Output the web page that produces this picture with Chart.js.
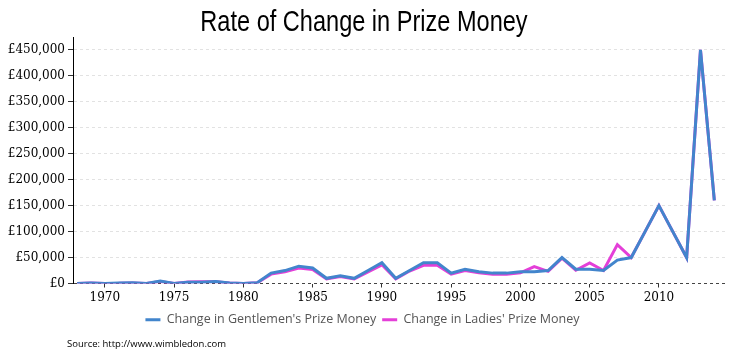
<!DOCTYPE html>
<html><head><meta charset="utf-8">
<script src="https://cdn.jsdelivr.net/npm/chart.js@4"></script>
<style>
html,body{margin:0;padding:0;background:#fff;}
#wrap{position:relative;width:750px;height:359px;}
#title{position:absolute;left:0;top:5px;width:728px;text-align:center;font:30px "Liberation Sans",Arial,sans-serif;line-height:32px;color:#000;transform:scaleX(0.785);transform-origin:364px 0;white-space:nowrap;}
#src{position:absolute;left:67px;top:337px;font:9.5px "Open Sans",sans-serif;color:#000;white-space:nowrap;}
</style>
</head><body>
<div id="wrap"><canvas id="c" width="750" height="359"></canvas>
<div id="title">Rate of Change in Prize Money</div>
<div id="src">Source: http://www.wimbledon.com</div></div>
<script>
const years = [1968,1969,1970,1971,1972,1973,1974,1975,1976,1977,1978,1979,1980,
  1981,1982,1983,1984,1985,1986,1987,1988,1989,1990,
  1991,1992,1993,1994,1995,1996,1997,1998,1999,2000,
  2001,2002,2003,2004,2005,2006,2007,2008,2009,2010,
  2011,2012,2013,2014];
const gentlemen = [0,1000,0,750,1250,0,5000,0,2500,2500,4000,1000,0,
  1600,20067,24933,33400,30000,10000,15000,10000,25000,40000,
  10000,25000,40000,40000,20000,27500,22500,20000,20000,22500,
  22500,25000,50000,27500,27500,25000,45000,50000,100000,150000,
  100000,50000,450000,160000];
const ladies = [0,750,0,300,1200,0,4000,0,3000,3500,3600,900,0,
  1400,18100,22500,30000,27000,9000,13500,9000,22500,36000,
  9000,24000,35000,35000,18000,25000,20500,18000,18000,20500,
  32500,23500,49000,25500,39500,25000,75000,50000,100000,150000,
  100000,50000,450000,160000];
const yTicks = [0,50000,100000,150000,200000,250000,300000,350000,400000,450000];
const xTicks = [1970,1975,1980,1985,1990,1995,2000,2005,2010];
const seriesNames = ["Change in Gentlemen's Prize Money", "Change in Ladies' Prize Money"];

const toPts = arr => years.map((y, i) => ({x: y, y: arr[i]}));
const tickFont = {family: "'DejaVu Serif', serif", size: 12};

new Chart(document.getElementById('c'), {
  type: 'line',
  data: {
    datasets: [
      {label: seriesNames[0], data: toPts(gentlemen), borderColor: '#4285cc', backgroundColor: '#4285cc', borderWidth: 3, pointRadius: 0, tension: 0},
      {label: seriesNames[1], data: toPts(ladies), borderColor: '#e43fd8', backgroundColor: '#e43fd8', borderWidth: 3, pointRadius: 0, tension: 0}
    ]
  },
  options: {
    responsive: false,
    animation: false,
    layout: {padding: {left: 0, right: 25, top: 37, bottom: 23}},
    plugins: {
      title: {display: false},
      legend: {position: 'bottom',
        labels: {boxWidth: 15, boxHeight: 3, padding: 6, color: '#555',
          font: {family: "'Open Sans',sans-serif", size: 12.5},
          generateLabels(chart) {
            const items = Chart.defaults.plugins.legend.labels.generateLabels(chart);
            items.forEach(it => { it.lineWidth = 0; it.fillStyle = it.strokeStyle; });
            return items;
          }}},
      tooltip: {enabled: false}
    },
    scales: {
      x: {type: 'linear', min: 1967.7, max: 2014.77,
        afterBuildTicks: s => { s.ticks = xTicks.map(v => ({value: v})); },
        afterFit: s => { s.height = 24; },
        ticks: {callback: v => String(v), color: '#000', font: tickFont, padding: 3, maxRotation: 0},
        grid: {drawOnChartArea: false, drawTicks: true, tickLength: 4, tickColor: '#333'},
        border: {display: false}
      },
      y: {min: 0, max: 475000,
        afterBuildTicks: s => { s.ticks = yTicks.map(v => ({value: v})); },
        afterFit: s => { s.width = 73; },
        ticks: {callback: v => '£' + v.toLocaleString('en-GB'), color: '#000', font: tickFont, padding: 3},
        grid: {color: c => (c.tick && c.tick.value === 0) ? '#444' : '#e2e2e2', tickColor: '#333', tickLength: 5, tickBorderDash: []},
        border: {display: true, color: '#000', width: 1, dash: [3, 3]}
      }
    }
  }
});
</script>
</body></html>
